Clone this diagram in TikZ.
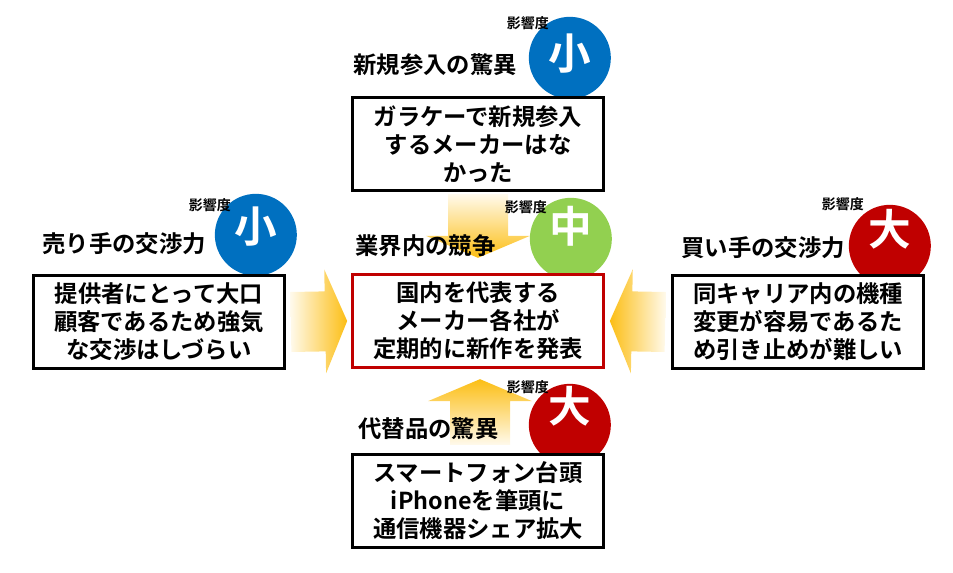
\documentclass[tikz,border=0pt]{standalone}
\usepackage{fontspec}
\setmainfont{Noto Sans CJK JP}[BoldFont={Noto Sans CJK JP Bold}]
\usetikzlibrary{calc,backgrounds}

\definecolor{impblue}{RGB}{0,112,192}
\definecolor{impgreen}{RGB}{146,208,80}
\definecolor{impred}{RGB}{192,0,0}
\definecolor{arrowgold}{RGB}{252,190,20}
\definecolor{arrowpale}{RGB}{255,250,236}

\tikzset{
  forcebox/.style={draw=black, line width=2.25pt, fill=white, inner sep=0pt,
    minimum width=188pt, minimum height=70pt, align=center,
    font=\fontsize{17.5}{21}\selectfont\bfseries},
  forcelabel/.style={anchor=west, inner sep=0pt, font=\fontsize{17.5}{21}\selectfont\bfseries},
  impact/.style={circle, minimum size=61.5pt, inner sep=0pt},
  impletter/.style={inner sep=0pt, text=white, font=\fontsize{32}{32}\selectfont\bfseries},
  impword/.style={inner sep=0pt, font=\fontsize{10.5}{11}\selectfont\bfseries},
}

% block arrow from #1 to tip #2, shading #3
\newcommand{\forcearrow}[3]{%
  \coordinate (hb) at ($(#2)!16.5pt!(#1)$);
  \shade[#3] ($(#1)!22.5pt!90:(#2)$) -- ($(hb)!22.5pt!90:(#2)$)
    -- ($(hb)!39pt!90:(#2)$) -- (#2) -- ($(hb)!39pt!-90:(#2)$)
    -- ($(hb)!22.5pt!-90:(#2)$) -- ($(#1)!22.5pt!-90:(#2)$) -- cycle;}

\begin{document}
\begin{tikzpicture}[x=0.75pt, y=-0.75pt]
  \useasboundingbox (0,0) rectangle (953,573);

  % the five boxes
  \node[forcebox] (entry) at (478,144) {ガラケーで新規参入\\するメーカーはな\\かった};
  \node[forcebox, draw=impred] (comp) at (478,321) {国内を代表する\\メーカー各社が\\定期的に新作を発表};
  \node[forcebox] (subst) at (478,501) {スマートフォン台頭\\iPhoneを筆頭に\\通信機器シェア拡大};
  \node[forcebox] (sell) at (159,322) {提供者にとって大口\\顧客であるため強気\\な交渉はしづらい};
  \node[forcebox] (buy) at (798,322) {同キャリア内の機種\\変更が容易であるた\\め引き止めが難しい};

  % titles above the boxes
  \node[forcelabel] (entrylab) at ($(entry.north west)+(2,-31)$) {新規参入の驚異};
  \node[forcelabel] (complab) at ($(comp.north west)+(4,-27)$) {業界内の競争};
  \node[forcelabel] (substlab) at ($(subst.north west)+(7,-24)$) {代替品の驚異};
  \node[forcelabel] (selllab) at ($(sell.north west)+(10,-30)$) {売り手の交渉力};
  \node[forcelabel] (buylab) at ($(buy.north west)+(10,-26)$) {買い手の交渉力};

  \begin{scope}[on background layer]
    % arrows into the centre box
    \coordinate (selltail) at ($(sell.east)+(5,0)$);
    \coordinate (selltip) at ($(comp.west)+(-4,0)$);
    \forcearrow{selltail}{selltip}{left color=arrowpale, right color=arrowgold}
    \coordinate (buytail) at ($(buy.west)+(-6,0)$);
    \coordinate (buytip) at ($(comp.east)+(5,0)$);
    \forcearrow{buytail}{buytip}{left color=arrowgold, right color=arrowpale}
    \coordinate (entrytail) at ($(entry.south)+(0,2)$);
    \coordinate (entrytip) at ($(comp.north)+(0,-15)$);
    \forcearrow{entrytail}{entrytip}{top color=arrowpale, bottom color=arrowgold}
    \coordinate (substtail) at ($(subst.north)+(2,-8)$);
    \coordinate (substtip) at ($(comp.south)+(2,10)$);
    \forcearrow{substtail}{substtip}{top color=arrowgold, bottom color=arrowpale}

    % impact circles, cut by the boxes
    \node[impact, fill=impblue] (entryimp) at ($(entry.north east)+(-35,-38)$) {};
    \node[impact, fill=impgreen] (compimp) at ($(comp.north east)+(-34,-34)$) {};
    \node[impact, fill=impred] (substimp) at ($(subst.north east)+(-35,-28)$) {};
    \node[impact, fill=impblue] (sellimp) at ($(sell.north east)+(-30,-39)$) {};
    \node[impact, fill=impred] (buyimp) at ($(buy.north east)+(-35,-28)$) {};
  \end{scope}

  \node[impletter] (entrymark) at ($(entryimp)+(0,-4)$) {小};
  \node[impletter] (compmark) at ($(compimp)+(0,-13)$) {中};
  \node[impletter] (substmark) at ($(substimp)+(0,-19)$) {大};
  \node[impletter] (sellmark) at ($(sellimp)+(0,-8)$) {小};
  \node[impletter] (buymark) at ($(buyimp)+(0,-17)$) {大};

  \node[impword] (entryword) at ($(entryimp)+(-42,-35)$) {影響度};
  \node[impword] (compword) at ($(compimp)+(-45,-32)$) {影響度};
  \node[impword] (substword) at ($(substimp)+(-42,-38)$) {影響度};
  \node[impword] (sellword) at ($(sellimp)+(-46,-30)$) {影響度};
  \node[impword] (buyword) at ($(buyimp)+(-47,-42)$) {影響度};
\end{tikzpicture}
\end{document}
